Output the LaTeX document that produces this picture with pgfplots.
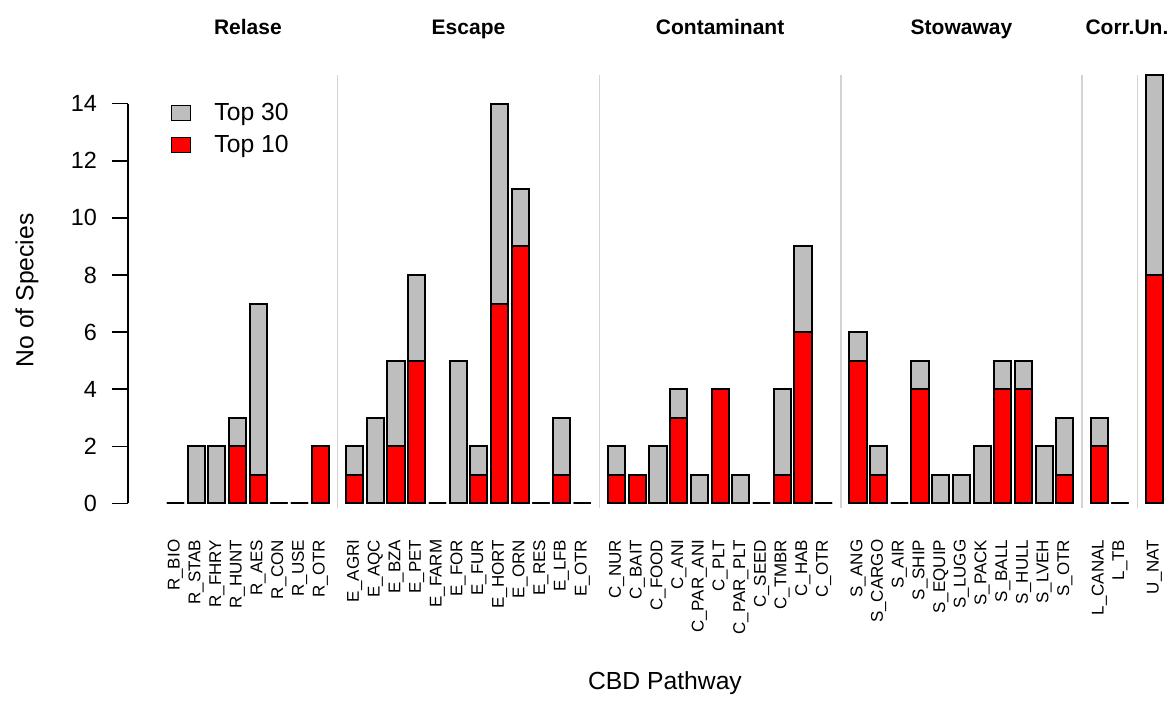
\documentclass[border=0pt]{standalone}
\usepackage{fontspec}
\setmainfont{Liberation Sans}
\usepackage{pgfplots}
\usepackage{pgfplotstable}
\pgfplotsset{compat=1.18}
\definecolor{bargray}{HTML}{BEBEBE}
\definecolor{sepgray}{HTML}{D3D3D3}
\pgfplotstableread{
x t30 t10
0 0 0
1.2 2 0
2.4 2 0
3.6 3 2
4.8 7 1
6.0 0 0
7.2 0 0
8.4 2 2
10.4 2 1
11.6 3 0
12.8 5 2
14.0 8 5
15.2 0 0
16.4 5 0
17.6 2 1
18.8 14 7
20.0 11 9
21.2 0 0
22.4 3 1
23.6 0 0
25.6 2 1
26.8 1 1
28.0 2 0
29.2 4 3
30.4 1 0
31.6 4 4
32.8 1 0
34.0 0 0
35.2 4 1
36.4 9 6
37.6 0 0
39.6 6 5
40.8 2 1
42.0 0 0
43.2 5 4
44.4 1 0
45.6 1 0
46.8 2 0
48.0 5 4
49.2 5 4
50.4 2 0
51.6 3 1
53.6 3 2
54.8 0 0
56.8 15 8
}\data
\begin{document}
\begin{tikzpicture}
\begin{axis}[
  x=8.618pt, y=14.27pt,
  xmin=-2.756, xmax=57.99, ymin=0, ymax=14,
  enlargelimits=false,
  clip=false,
  axis y line*=left,
  axis x line*=bottom,
  x axis line style={draw=none},
  y axis line style={line width=0.7pt},
  ytick={0,2,...,14},
  tick align=outside,
  major tick length=8pt,
  ytick style={line width=0.7pt, black},
  xtick style={draw=none},
  xtick={0,1.2,2.4,3.6,4.8,6.0,7.2,8.4,
    10.4,11.6,12.8,14.0,15.2,16.4,17.6,18.8,20.0,21.2,22.4,23.6,
    25.6,26.8,28.0,29.2,30.4,31.6,32.8,34.0,35.2,36.4,37.6,
    39.6,40.8,42.0,43.2,44.4,45.6,46.8,48.0,49.2,50.4,51.6,
    53.6,54.8,56.8},
  xticklabels={R\_BIO, R\_STAB, R\_FHRY, R\_HUNT, R\_AES, R\_CON, R\_USE, R\_OTR,
    E\_AGRI, E\_AQC, E\_BZA, E\_PET, E\_FARM, E\_FOR, E\_FUR, E\_HORT, E\_ORN, E\_RES, E\_LFB, E\_OTR,
    C\_NUR, C\_BAIT, C\_FOOD, C\_ANI, C\_PAR\_ANI, C\_PLT, C\_PAR\_PLT, C\_SEED, C\_TMBR, C\_HAB, C\_OTR,
    S\_ANG, S\_CARGO, S\_AIR, S\_SHIP, S\_EQUIP, S\_LUGG, S\_PACK, S\_BALL, S\_HULL, S\_LVEH, S\_OTR,
    L\_CANAL, L\_TB, U\_NAT},
  xticklabel style={font=\fontsize{8.5}{10}\selectfont, yshift=-6.7pt, rotate=90, anchor=east},
  yticklabel style={font=\fontsize{11.7}{13}\selectfont, xshift=-4pt},
  /pgf/number format/assume math mode=true,
  bar width=1,
  legend image code/.code={\draw[#1, line width=0.5pt] (0pt,-3.5pt) rectangle (9.5pt,4pt);},
  legend style={at={(axis cs:-0.26,14.02)}, anchor=north west, draw=none, fill=none,
    inner sep=0pt, row sep=5.6pt, column sep=11.5pt,
    font=\fontsize{12.35}{14}\selectfont, nodes={inner sep=0pt}},
  legend cell align=left,
]
\addplot[forget plot, sepgray, line width=0.75pt, sharp plot, mark=none] coordinates {(9.4,-0.15) (9.4,15)};
\addplot[forget plot, sepgray, line width=0.75pt, sharp plot, mark=none] coordinates {(24.6,-0.15) (24.6,15)};
\addplot[forget plot, sepgray, line width=0.75pt, sharp plot, mark=none] coordinates {(38.6,-0.15) (38.6,15)};
\addplot[forget plot, sepgray, line width=0.75pt, sharp plot, mark=none] coordinates {(52.6,-0.15) (52.6,15)};
\addplot[forget plot, sepgray, line width=0.75pt, sharp plot, mark=none] coordinates {(55.8,-0.15) (55.8,15)};
\addplot[ybar, bar shift=0pt, draw=black, fill=bargray, line width=1pt] table[x=x, y=t30] {\data};
\addlegendentry{Top 30}
\addplot[ybar, bar shift=0pt, draw=black, fill=red, line width=1pt] table[x=x, y=t10] {\data};
\addlegendentry{Top 10}
\path (axis cs:-10.182,-6.647) rectangle (axis cs:57.99,17.635);
\node[font=\bfseries\fontsize{10.5}{12}\selectfont, anchor=base] at (axis cs:4.2,16.41) {Relase};
\node[font=\bfseries\fontsize{10.5}{12}\selectfont, anchor=base] at (axis cs:17.0,16.41) {Escape};
\node[font=\bfseries\fontsize{10.5}{12}\selectfont, anchor=base] at (axis cs:31.6,16.41) {Contaminant};
\node[font=\bfseries\fontsize{10.5}{12}\selectfont, anchor=base] at (axis cs:45.6,16.41) {Stowaway};
\node[font=\bfseries\fontsize{10.5}{12}\selectfont, anchor=base] at (axis cs:55.2,16.41) {Corr.Un.};
\node[font=\fontsize{12.35}{14}\selectfont, anchor=base] at (axis cs:28.4,-6.507) {CBD Pathway};
\node[font=\fontsize{12.35}{14}\selectfont, rotate=90, anchor=base] at (axis cs:-8.24,7.46) {No of Species};
\end{axis}
\end{tikzpicture}
\end{document}
